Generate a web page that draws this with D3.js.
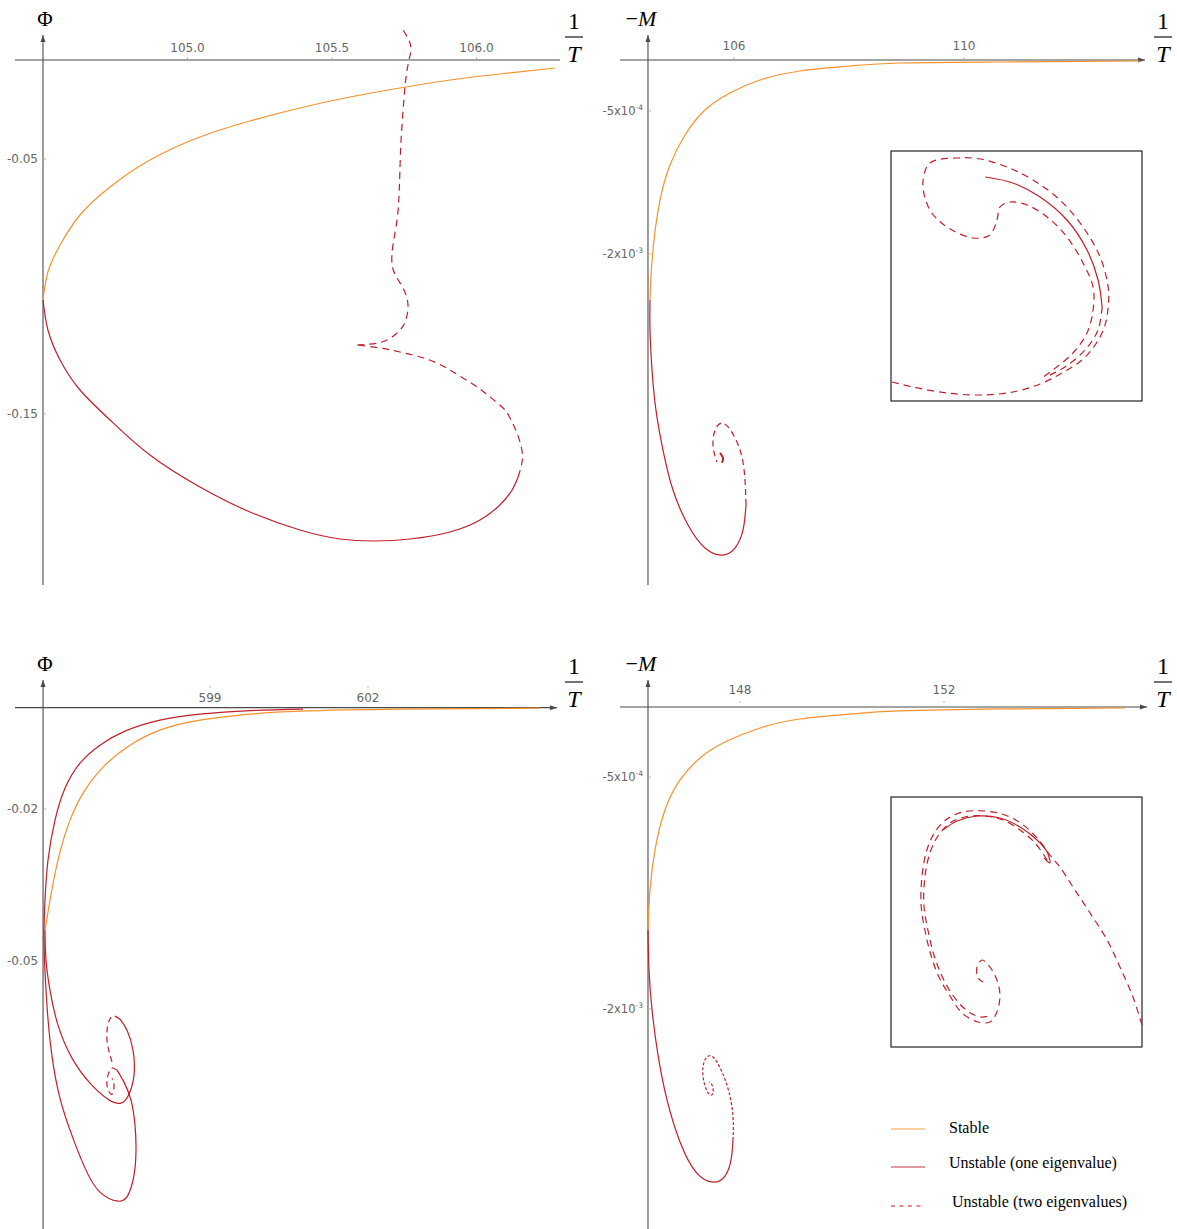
<!DOCTYPE html>
<html>
<head>
<meta charset="utf-8">
<script src="https://cdn.jsdelivr.net/npm/d3@7"></script>
<style>
  body { margin: 0; background: #fff; }
  svg text { font-family: "DejaVu Sans", sans-serif; }
  .serif { font-family: "Liberation Serif", "DejaVu Serif", serif; }
</style>
</head>
<body>
<svg id="chart" width="1177" height="1229"></svg>
<script>
/* global d3 */
// ---------- data ----------
// top left: Phi against 1/T
var tlTickX = [105.0, 105.5, 106.0];
var tlTickXLabels = ["105.0", "105.5", "106.0"];
var tlTickY = [-0.05, -0.15];
var tlTickYLabels = ["-0.05", "-0.15"];
var tlStable = [[106.272, -0.01431], [106.081, -0.01667], [105.908, -0.01902], [105.735, -0.02216], [105.562, -0.02569], [105.389, -0.0300], [105.216, -0.0351], [105.043, -0.04137], [104.870, -0.05039], [104.732, -0.06098], [104.628, -0.07196], [104.559, -0.08373], [104.517, -0.09431], [104.500, -0.10529]];
var tlUnstableOne = [[104.500, -0.10529], [104.517, -0.11706], [104.559, -0.12882], [104.628, -0.14059], [104.732, -0.15235], [104.870, -0.16608], [105.043, -0.17863], [105.216, -0.18843], [105.389, -0.19549], [105.528, -0.19902], [105.649, -0.19980], [105.770, -0.19902], [105.908, -0.19627], [106.012, -0.19157], [106.081, -0.18569], [106.123, -0.17980], [106.144, -0.17471]];
var tlUnstableTwoLow = [[106.144, -0.17471], [106.157, -0.16922], [106.157, -0.16412], [106.140, -0.15745], [106.116, -0.15157], [106.092, -0.14765], [106.047, -0.14333], [106.002, -0.13941], [105.953, -0.13588], [105.908, -0.13275], [105.863, -0.13000], [105.805, -0.12765], [105.735, -0.12569], [105.666, -0.12412], [105.587, -0.12294]];
var tlUnstableTwoUp = [[105.587, -0.12294], [105.673, -0.12176], [105.725, -0.11824], [105.753, -0.11392], [105.763, -0.10725], [105.749, -0.10137], [105.725, -0.09667], [105.708, -0.09157], [105.711, -0.08373], [105.725, -0.07392], [105.732, -0.06412], [105.735, -0.05431], [105.739, -0.04255], [105.746, -0.03078], [105.753, -0.02098], [105.763, -0.01314], [105.773, -0.00725], [105.766, -0.00333], [105.746, 0.00059]];

// top right: -M against 1/T
var trTickX = [106, 110];
var trTickXLabels = ["106", "110"];
var trTickY = [-5e-4, -2e-3];
var trTickYLabels = [["-5x10", "-4"], ["-2x10", "-3"]];
var trStable = [[113.061, 0.245e-4], [110.626, 0.14e-4], [108.887, 0.035e-4], [108.017, -0.28e-4], [107.148, -0.804e-4], [106.452, -1.748e-4], [105.930, -3.112e-4], [105.496, -4.895e-4], [105.148, -7.518e-4], [104.887, -10.66e-4], [104.713, -14.34e-4], [104.609, -18.53e-4], [104.557, -22.20e-4], [104.539, -24.83e-4]];
var trUnstableOne = [[104.539, -24.83e-4], [104.539, -27.97e-4], [104.574, -32.17e-4], [104.643, -36.37e-4], [104.765, -40.56e-4], [104.939, -44.76e-4], [105.200, -48.43e-4], [105.496, -50.84e-4], [105.791, -51.58e-4], [106.017, -50.84e-4], [106.157, -48.95e-4], [106.209, -46.33e-4]];
var trUnstableTwo = [[106.209, -46.33e-4], [106.191, -43.71e-4], [106.139, -41.30e-4], [106.035, -39.51e-4], [105.913, -38.25e-4], [105.791, -37.73e-4], [105.687, -38.25e-4], [105.635, -39.51e-4], [105.652, -40.77e-4], [105.704, -41.82e-4]];
var trUnstableOneInner = [[105.757, -40.87e-4], [105.809, -41.40e-4], [105.791, -41.92e-4]];
// top right inset (box coordinates, 0..100)
var trInsetTwo = [[0.4, 7.6], [8.8, 5.6], [22.3, 3.2], [35.5, 2.4], [48.6, 3.6], [59.4, 6.8], [68.1, 11.2], [76.1, 16.4], [81.3, 22.4], [84.9, 29.2], [86.5, 37.2], [86.5, 45.6], [83.3, 57.6], [76.5, 69.6], [67.3, 80.4], [56.6, 88.4], [46.2, 93.6], [35.5, 96.8], [26.3, 97.2], [15.5, 95.2], [12.7, 87.2], [15.5, 76.4], [22.3, 69.6], [32.7, 65.2], [39.4, 66.4], [42.2, 72.4], [43.4, 77.6], [47.4, 79.6], [54.2, 78.4], [62.2, 73.6], [70.1, 65.6], [76.5, 55.2], [80.5, 45.6], [80.5, 36.4], [78.1, 27.2], [72.5, 19.2], [64.5, 12.4], [60.6, 9.6]];
var trInsetOne = [[37.5, 89.6], [48.6, 87.2], [59.4, 81.6], [70.1, 72.4], [78.1, 60.4], [82.5, 48.4], [84.1, 37.6]];
var trInsetTwoEnd = [[84.1, 37.6], [82.5, 28.4], [77.3, 20.4], [69.3, 13.6], [62.5, 10.0]];

// bottom left: Phi against 1/T
var blTickX = [599, 602];
var blTickXLabels = ["599", "602"];
var blTickY = [-0.02, -0.05];
var blTickYLabels = ["-0.02", "-0.05"];
var blStable = [[605.266, -0.10e-3], [602.608, -0.30e-3], [600.709, -0.69e-3], [599.759, -1.28e-3], [598.810, -2.47e-3], [598.051, -4.44e-3], [597.481, -7.40e-3], [597.006, -11.35e-3], [596.627, -16.28e-3], [596.342, -22.20e-3], [596.114, -30.10e-3], [595.962, -37.99e-3], [595.867, -43.91e-3]];
var blUnstableOneA = [[600.766, -0.30e-3], [599.759, -0.59e-3], [598.810, -1.28e-3], [598.051, -2.47e-3], [597.386, -4.64e-3], [596.911, -7.40e-3], [596.532, -10.95e-3], [596.247, -15.89e-3], [596.057, -22.20e-3], [595.924, -30.10e-3], [595.867, -37.99e-3], [595.848, -45.89e-3], [595.886, -55.75e-3], [595.962, -65.62e-3], [596.114, -75.49e-3], [596.342, -83.38e-3], [596.627, -90.88e-3], [596.911, -95.62e-3], [597.253, -97.40e-3], [597.443, -96.21e-3], [597.557, -92.26e-3], [597.595, -87.33e-3], [597.576, -82.40e-3], [597.500, -77.46e-3], [597.367, -73.91e-3], [597.234, -71.54e-3]];
var blUnstableTwoA = [[597.234, -71.54e-3], [597.139, -71.15e-3], [597.063, -72.53e-3], [597.044, -74.50e-3], [597.101, -76.08e-3], [597.158, -76.08e-3], [597.177, -74.50e-3], [597.139, -73.12e-3]];
var blUnstableOneB = [[595.867, -43.91e-3], [595.886, -49.83e-3], [595.962, -55.75e-3], [596.114, -62.66e-3], [596.380, -69.17e-3], [596.722, -74.11e-3], [597.063, -77.27e-3], [597.310, -78.05e-3], [597.462, -76.28e-3], [597.557, -72.53e-3], [597.538, -67.59e-3], [597.424, -63.65e-3], [597.291, -61.48e-3]];
var blUnstableTwoB = [[597.291, -61.48e-3], [597.158, -60.88e-3], [597.063, -62.46e-3], [597.044, -65.62e-3], [597.101, -68.58e-3], [597.158, -70.56e-3]];

// bottom right: -M against 1/T
var brTickX = [148, 152];
var brTickXLabels = ["148", "152"];
var brTickY = [-5e-4, -2e-3];
var brTickYLabels = [["-5x10", "-4"], ["-2x10", "-3"]];
var brStable = [[155.549, -0.54e-4], [153.098, -0.60e-4], [151.137, -0.73e-4], [150.157, -0.93e-4], [149.176, -1.25e-4], [148.392, -1.83e-4], [147.706, -2.74e-4], [147.216, -3.77e-4], [146.824, -5.19e-4], [146.529, -7.13e-4], [146.333, -9.72e-4], [146.235, -12.31e-4], [146.196, -14.89e-4]];
var brUnstableOne = [[146.196, -14.89e-4], [146.216, -17.48e-4], [146.275, -20.06e-4], [146.392, -22.97e-4], [146.569, -25.88e-4], [146.824, -28.60e-4], [147.137, -30.54e-4], [147.471, -31.19e-4], [147.706, -30.80e-4], [147.824, -29.76e-4], [147.863, -28.47e-4]];
var brUnstableTwo = [[147.863, -28.47e-4], [147.863, -26.98e-4], [147.784, -25.37e-4], [147.647, -24.07e-4], [147.490, -23.17e-4], [147.353, -23.10e-4], [147.275, -23.75e-4], [147.294, -24.72e-4], [147.392, -25.50e-4], [147.471, -25.43e-4], [147.451, -24.91e-4], [147.392, -24.72e-4]];
// bottom right inset (box coordinates, 0..100)
var brInsetTwoA = [[100, 8.8], [96.4, 20], [91.2, 32], [86.1, 42.8], [79.3, 53.6], [72.5, 64], [67.3, 72], [63.3, 76.8], [58.2, 83.6], [52.2, 89.2], [45.4, 92.8], [37.5, 94.4], [28.7, 94], [22.3, 91.2], [17.5, 86], [14.3, 78.8], [12.4, 68.8], [12, 56.8], [13.5, 46.8], [15.9, 36.8], [19.1, 28], [23.5, 20.4], [28.3, 13.6], [34.7, 10], [39.4, 10], [42.2, 14], [43.4, 20.8], [42.2, 26.8], [39.4, 32], [36.3, 34.8], [34.3, 32], [34.7, 27.6], [36.7, 26]];
var brInsetTwoB = [[62.2, 74.8], [57.4, 81.6], [51.4, 86.8], [44.6, 90.8], [37.5, 92.4], [29.5, 92], [23.5, 89.6], [18.7, 84.4], [15.5, 77.6], [13.5, 68], [13.1, 56.8], [14.7, 46.8], [17.1, 36.8], [20.3, 28.4], [24.3, 21.2], [29.5, 15.2], [35.5, 12], [40.2, 12.8]];
var brInsetOne = [[20.7, 86.8], [26.3, 90.4], [34.3, 92.4], [43.4, 91.6], [51.4, 88], [58.2, 82.8], [62.2, 78], [63.3, 73.6], [61, 75.6]];

var legendLabels = ["Stable", "Unstable (one eigenvalue)", "Unstable (two eigenvalues)"];

// ---------- styles ----------
var ORANGE = "#f6912d",
    RED = "#c01f28",
    AXIS = "#4a4a4a",
    TICK = "#666";

var svg = d3.select("#chart");

function styleFor(kind, dash) {
    if (kind === "stable") { return { color: ORANGE, dash: null }; }
    if (kind === "one") { return { color: RED, dash: null }; }
    return { color: RED, dash: dash };
}

function drawFrac(g, cx, top) {
    g.append("text").attr("class", "serif").attr("x", cx).attr("y", top + 17)
        .attr("text-anchor", "middle").attr("font-size", 24).text("1");
    g.append("line").attr("x1", cx - 9).attr("x2", cx + 9)
        .attr("y1", top + 25).attr("y2", top + 25)
        .attr("stroke", "#000").attr("stroke-width", 1.1);
    g.append("text").attr("class", "serif").attr("x", cx).attr("y", top + 50)
        .attr("text-anchor", "middle").attr("font-size", 24).attr("font-style", "italic").text("T");
}

function drawPanel(p) {
    var g = svg.append("g"),
        x = d3.scaleLinear().domain([p.xRef[0], p.xRef[2]]).range([p.xRef[1], p.xRef[3]]),
        y = d3.scaleLinear().domain([p.yRef[0], p.yRef[2]]).range([p.yRef[1], p.yRef[3]]),
        x0 = x(p.cross[0]),
        y0 = y(p.cross[1]),
        line = d3.line()
            .x(function (d) { return x(d[0]); })
            .y(function (d) { return y(d[1]); })
            .curve(d3.curveNatural);

    // axes
    g.append("line").attr("x1", p.xSpan[0]).attr("x2", p.xSpan[1])
        .attr("y1", y0).attr("y2", y0).attr("stroke", AXIS).attr("stroke-width", 1.1);
    g.append("line").attr("x1", x0).attr("x2", x0)
        .attr("y1", p.ySpan[0]).attr("y2", p.ySpan[1]).attr("stroke", AXIS).attr("stroke-width", 1.1);
    g.append("path")
        .attr("d", "M" + x0 + "," + p.ySpan[0] + "l-2.5,7h5z")
        .attr("fill", AXIS);
    if (p.xArrow) {
        g.append("path")
            .attr("d", "M" + p.xSpan[1] + "," + y0 + "l-7,-2.5v5z")
            .attr("fill", AXIS);
    }

    // x ticks
    p.ticksX.forEach(function (v, i) {
        g.append("line").attr("x1", x(v)).attr("x2", x(v))
            .attr("y1", y0 - p.xTickMark - 1.5).attr("y2", y0 - p.xTickMark)
            .attr("stroke", "#888").attr("stroke-width", 0.8);
        g.append("text").attr("x", x(v)).attr("y", y0 - p.xLabelOff)
            .attr("text-anchor", "middle").attr("font-size", 12).attr("fill", TICK)
            .text(p.ticksXLabels[i]);
    });

    // y ticks
    p.ticksY.forEach(function (v, i) {
        var lab = p.ticksYLabels[i], t;
        g.append("line").attr("x1", x0 + 1.5).attr("x2", x0 + 3)
            .attr("y1", y(v)).attr("y2", y(v))
            .attr("stroke", "#888").attr("stroke-width", 0.8);
        t = g.append("text").attr("x", x0 - 5).attr("y", y(v) + 4)
            .attr("text-anchor", "end").attr("font-size", 12).attr("fill", TICK);
        if (typeof lab === "string") {
            t.text(lab);
        } else {
            t.attr("font-size", 11.5).text(lab[0]);
            t.append("tspan").attr("font-size", 7.5).attr("dy", -5).text(lab[1]);
        }
    });

    // axis names
    if (p.yName === "phi") {
        g.append("text").attr("class", "serif").attr("x", x0 + 2).attr("y", p.ySpan[0] - 9)
            .attr("text-anchor", "middle").attr("font-size", 21).text("\u03A6");
    } else {
        var mt = g.append("text").attr("class", "serif").attr("x", x0 - 7).attr("y", p.ySpan[0] - 9)
            .attr("text-anchor", "middle").attr("font-size", 22);
        mt.append("tspan").text("\u2212");
        mt.append("tspan").attr("font-style", "italic").text("M");
    }
    drawFrac(g, p.fracX, p.ySpan[0] - 23);

    // curves
    p.series.forEach(function (s) {
        var st = styleFor(s.kind, p.dash);
        g.append("path").datum(s.data)
            .attr("d", line)
            .attr("fill", "none")
            .attr("stroke", st.color)
            .attr("stroke-width", s.width || 1.2)
            .attr("stroke-dasharray", st.dash);
    });

    // inset
    if (p.inset) {
        var ib = p.inset.box,
            ix = d3.scaleLinear().domain([0, 100]).range([ib[0], ib[0] + ib[2]]),
            iy = d3.scaleLinear().domain([0, 100]).range([ib[1] + ib[3], ib[1]]),
            iline = d3.line()
                .x(function (d) { return ix(d[0]); })
                .y(function (d) { return iy(d[1]); })
                .curve(d3.curveCatmullRom.alpha(0.5));
        g.append("rect").attr("x", ib[0]).attr("y", ib[1])
            .attr("width", ib[2]).attr("height", ib[3])
            .attr("fill", "#fff").attr("stroke", "#222").attr("stroke-width", 1.2);
        p.inset.series.forEach(function (s) {
            var st = styleFor(s.kind, "7,5");
            g.append("path").datum(s.data)
                .attr("d", iline)
                .attr("fill", "none")
                .attr("stroke", st.color)
                .attr("stroke-width", 1.2)
                .attr("stroke-dasharray", st.dash);
        });
    }
}

var panels = [
    {
        xRef: [105.0, 187.5, 106.0, 476.5], yRef: [-0.05, 159, -0.15, 414],
        cross: [104.5, -0.0112], xSpan: [15, 560], ySpan: [35, 585], xArrow: false,
        ticksX: tlTickX, ticksXLabels: tlTickXLabels, ticksY: tlTickY, ticksYLabels: tlTickYLabels,
        xLabelOff: 8.5, xTickMark: 1, yName: "phi", fracX: 574, dash: "7,5",
        series: [
            { kind: "stable", data: tlStable },
            { kind: "one", data: tlUnstableOne },
            { kind: "two", data: tlUnstableTwoLow },
            { kind: "two", data: tlUnstableTwoUp }
        ]
    },
    {
        xRef: [106, 734, 110, 964], yRef: [-5e-4, 111, -2e-3, 254],
        cross: [104.504, 0.35e-4], xSpan: [620, 1145], ySpan: [35, 585], xArrow: true,
        ticksX: trTickX, ticksXLabels: trTickXLabels, ticksY: trTickY, ticksYLabels: trTickYLabels,
        xLabelOff: 10, xTickMark: 1, yName: "M", fracX: 1163, dash: "6,4",
        series: [
            { kind: "stable", data: trStable },
            { kind: "one", data: trUnstableOne },
            { kind: "two", data: trUnstableTwo },
            { kind: "one", data: trUnstableOneInner, width: 2 }
        ],
        inset: {
            box: [891, 151, 251, 250],
            series: [
                { kind: "two", data: trInsetTwo },
                { kind: "one", data: trInsetOne },
                { kind: "two", data: trInsetTwoEnd }
            ]
        }
    },
    {
        xRef: [599, 210, 602, 368], yRef: [-0.02, 809, -0.05, 961],
        cross: [595.83, 0], xSpan: [15, 557], ySpan: [680, 1229], xArrow: true,
        ticksX: blTickX, ticksXLabels: blTickXLabels, ticksY: blTickY, ticksYLabels: blTickYLabels,
        xLabelOff: 6, xTickMark: 20, yName: "phi", fracX: 574, dash: "6,4",
        series: [
            { kind: "stable", data: blStable },
            { kind: "one", data: blUnstableOneA },
            { kind: "two", data: blUnstableTwoA },
            { kind: "one", data: blUnstableOneB },
            { kind: "two", data: blUnstableTwoB }
        ]
    },
    {
        xRef: [148, 740, 152, 944], yRef: [-5e-4, 777, -2e-3, 1009],
        cross: [146.196, -0.47e-4], xSpan: [620, 1147], ySpan: [680, 1229], xArrow: true,
        ticksX: brTickX, ticksXLabels: brTickXLabels, ticksY: brTickY, ticksYLabels: brTickYLabels,
        xLabelOff: 13, xTickMark: 4, yName: "M", fracX: 1163, dash: "3,2",
        series: [
            { kind: "stable", data: brStable },
            { kind: "one", data: brUnstableOne },
            { kind: "two", data: brUnstableTwo }
        ],
        inset: {
            box: [891, 797, 251, 250],
            series: [
                { kind: "two", data: brInsetTwoA },
                { kind: "two", data: brInsetTwoB },
                { kind: "one", data: brInsetOne }
            ]
        }
    }
];

panels.forEach(drawPanel);

// legend
var legend = svg.append("g").attr("transform", "translate(891,1129)");
legendLabels.forEach(function (lab, i) {
    var row = legend.append("g").attr("transform", "translate(0," + (i === 0 ? 0 : i === 1 ? 38 : 77) + ")");
    row.append("line").attr("x1", 0).attr("x2", 34).attr("y1", 0).attr("y2", 0)
        .attr("stroke", i === 0 ? "#f7a04a" : i === 1 ? "#c0393f" : "#e0101a")
        .attr("stroke-width", 1.2)
        .attr("stroke-dasharray", i === 2 ? "4,4.5" : null);
    row.append("text").attr("class", "serif")
        .attr("x", i === 2 ? 61 : 58).attr("y", i === 2 ? 0 : i === 1 ? 0 : 4)
        .attr("dy", i === 0 ? 0 : 1)
        .attr("font-size", 16).text(lab);
});
</script>
</body>
</html>
